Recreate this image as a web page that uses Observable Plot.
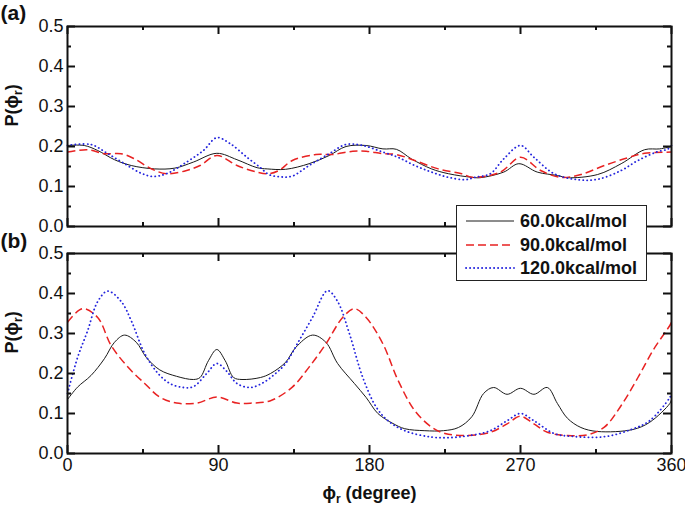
<!DOCTYPE html>
<html><head><meta charset="utf-8">
<script src="https://cdn.jsdelivr.net/npm/d3@7"></script>
<script src="https://cdn.jsdelivr.net/npm/@observablehq/plot@0.6"></script>
<style>
body{margin:0;background:#fff;}
#wrap{position:relative;width:685px;height:505px;background:#fff;font-family:"Liberation Sans",Arial,sans-serif;color:#111;}
.panel{position:absolute;left:0;}
#legend{position:absolute;left:456px;top:205px;width:189px;height:74px;border:1.5px solid #222;background:#fff;}
.lg{position:absolute;left:0;width:189px;height:22px;}
.lg svg{position:absolute;left:8px;top:0;}
.lg span{position:absolute;left:63px;top:0;font-weight:bold;font-size:18px;line-height:22px;white-space:nowrap;}
</style></head>
<body><div id="wrap"><div class="panel" id="pa" style="top:0px"></div><div class="panel" id="pb" style="top:228px"></div><div id="legend"></div></div>
<script>
// ---- data ----
const seriesNames = ["60.0kcal/mol", "90.0kcal/mol", "120.0kcal/mol"];
const xMajor = [0, 90, 180, 270, 360];
const xMinor = [45, 135, 225, 315];
const yMajor = [0, 0.1, 0.2, 0.3, 0.4, 0.5];
const yMinor = [0.05, 0.15, 0.25, 0.35, 0.45];

// panel (a): [phi_r (degree), P]
const a60 = [[0,0.2025],[10,0.2025],[18,0.19],[28,0.167],[38,0.1525],[52,0.144],[64,0.146],[75,0.161],[89,0.183],[101,0.167],[113,0.147],[119,0.144],[130,0.143],[144,0.157],[156,0.1775],[166,0.2],[178,0.2025],[188,0.194],[196,0.193],[205,0.169],[217,0.144],[227,0.132],[241,0.123],[246,0.122],[260,0.136],[269,0.157],[280,0.136],[292,0.1275],[298,0.122],[316,0.13],[330,0.157],[344,0.192],[353,0.194],[360,0.2]];
const a90 = [[0,0.186],[12,0.192],[22,0.182],[32,0.182],[40,0.169],[50,0.144],[59,0.132],[71,0.14],[79,0.1525],[89,0.1775],[101,0.1525],[113,0.136],[120,0.132],[126,0.14],[134,0.165],[148,0.18],[158,0.18],[170,0.188],[178,0.188],[188,0.182],[196,0.18],[207,0.165],[221,0.144],[235,0.132],[241,0.123],[258,0.136],[270,0.173],[282,0.14],[294,0.123],[306,0.13],[320,0.1525],[334,0.172],[344,0.183],[360,0.186]];
const a120 = [[0,0.2025],[14,0.205],[24,0.182],[34,0.157],[44,0.133],[51,0.125],[59,0.132],[71,0.161],[81,0.19],[89,0.222],[97,0.207],[107,0.173],[115,0.147],[120,0.13],[127,0.124],[134,0.126],[144,0.1525],[156,0.182],[166,0.205],[176,0.2025],[188,0.186],[197,0.173],[207,0.1525],[217,0.136],[227,0.123],[237,0.117],[243,0.123],[252,0.132],[260,0.169],[270,0.2025],[278,0.173],[290,0.132],[304,0.117],[316,0.118],[330,0.14],[340,0.165],[351,0.186],[358,0.194],[360,0.2025]];

// panel (b)
const b60 = [[0,0.135],[6,0.166],[14,0.195],[22,0.237],[28,0.278],[34,0.296],[41,0.278],[47,0.24],[55,0.209],[65,0.193],[75,0.185],[79,0.19],[84,0.232],[89,0.26],[94,0.232],[99,0.19],[104,0.185],[115,0.19],[121,0.2],[130,0.228],[136,0.265],[146,0.296],[154,0.278],[161,0.225],[171,0.175],[178,0.14],[185,0.1],[194,0.075],[201,0.062],[213,0.057],[224,0.057],[233,0.065],[241,0.092],[248,0.15],[254,0.165],[262,0.148],[270,0.163],[278,0.148],[286,0.165],[292,0.125],[298,0.088],[306,0.065],[316,0.055],[337,0.06],[347,0.078],[359,0.125],[360,0.135]];
const b90 = [[0,0.328],[9,0.362],[18,0.34],[26,0.27],[36,0.216],[46,0.175],[55,0.141],[65,0.126],[77,0.126],[89,0.141],[101,0.126],[110,0.126],[121,0.132],[134,0.166],[144,0.216],[154,0.274],[164,0.34],[171,0.362],[178,0.34],[188,0.274],[197,0.183],[207,0.107],[217,0.066],[225,0.05],[237,0.045],[252,0.053],[262,0.074],[270,0.093],[278,0.074],[286,0.053],[298,0.045],[310,0.047],[320,0.066],[330,0.12],[340,0.19],[349,0.258],[359,0.32],[360,0.328]];
const b120 = [[0,0.15],[6,0.24],[12,0.307],[18,0.38],[24,0.406],[32,0.38],[38,0.332],[46,0.25],[54,0.2],[61,0.175],[69,0.165],[75,0.167],[83,0.2],[89,0.225],[95,0.205],[101,0.175],[109,0.165],[117,0.178],[124,0.2],[130,0.225],[138,0.282],[146,0.34],[155,0.407],[161,0.38],[168,0.3],[176,0.19],[184,0.116],[191,0.082],[201,0.057],[217,0.041],[229,0.04],[240,0.045],[252,0.057],[262,0.082],[270,0.1],[278,0.082],[290,0.05],[300,0.043],[320,0.042],[336,0.06],[347,0.082],[359,0.14],[360,0.15]];

// ---- styles ----
const sty = [
  {stroke: "#1a1a1a", strokeWidth: 1, dash: null, cap: "butt"},
  {stroke: "#e82222", strokeWidth: 1.5, dash: "8,4", cap: "butt"},
  {stroke: "#2424dd", strokeWidth: 1.8, dash: "0.2,3.8", cap: "round"}
];

const W = 685, ML = 67, MR = 14;

function panel(series, letter, showX, h, mt, mb) {
  const fh = h - mt - mb, fw = W - ML - MR;
  const tw = 2, big = 8, small = 4;
  const lines = series.map((d, i) => Plot.line(d, {
    x: p => p[0], y: p => p[1], curve: "catmull-rom",
    stroke: sty[i].stroke, strokeWidth: sty[i].strokeWidth,
    strokeDasharray: sty[i].dash, strokeLinecap: sty[i].cap
  }));
  const marks = [
    ...lines,
    // inward ticks on all four sides
    Plot.tickX(xMajor, {x: d => d, insetTop: fh - big, stroke: "#111", strokeWidth: tw}),
    Plot.tickX(xMajor, {x: d => d, insetBottom: fh - big, stroke: "#111", strokeWidth: tw}),
    Plot.tickX(xMinor, {x: d => d, insetTop: fh - small, stroke: "#111", strokeWidth: tw}),
    Plot.tickX(xMinor, {x: d => d, insetBottom: fh - small, stroke: "#111", strokeWidth: tw}),
    Plot.tickY(yMajor, {y: d => d, insetRight: fw - big, stroke: "#111", strokeWidth: tw}),
    Plot.tickY(yMajor, {y: d => d, insetLeft: fw - big, stroke: "#111", strokeWidth: tw}),
    Plot.tickY(yMinor, {y: d => d, insetRight: fw - small, stroke: "#111", strokeWidth: tw}),
    Plot.tickY(yMinor, {y: d => d, insetLeft: fw - small, stroke: "#111", strokeWidth: tw}),
    Plot.frame({stroke: "#111", strokeWidth: 2}),
    Plot.axisY({anchor: "left", ticks: yMajor, tickSize: 0, tickPadding: 4, tickFormat: d3.format(".1f"), label: null, fontSize: 18}),
    Plot.text([letter], {frameAnchor: "top-left", lineAnchor: "middle", dx: -67, dy: letter === "(a)" ? -13 : -12, textAnchor: "start", fontWeight: "bold", fontSize: 21}),
    Plot.text(["P(ϕr)"], {frameAnchor: "left", lineAnchor: "middle", rotate: -90, dx: -55, fontWeight: "bold", fontSize: 18, className: "ylab"})
  ];
  if (showX) {
    marks.push(Plot.axisX({anchor: "bottom", ticks: xMajor, tickSize: 0, tickPadding: 5, tickFormat: d => String(d), label: null, fontSize: 18}));
    marks.push(Plot.text(["ϕr (degree)"], {frameAnchor: "bottom", lineAnchor: "middle", dy: 40, fontWeight: "bold", fontSize: 18, className: "xlab"}));
  }
  const svg = Plot.plot({
    width: W, height: h,
    marginLeft: ML, marginRight: MR, marginTop: mt, marginBottom: mb,
    x: {domain: [0, 360], axis: null},
    y: {domain: [0, 0.5], axis: null},
    style: {background: "transparent", overflow: "visible", fontFamily: "'Liberation Sans', Arial, sans-serif", fontSize: "18px", color: "#111"},
    marks
  });
  svg.querySelectorAll(".ylab text").forEach(t => {
    t.innerHTML = 'P(ϕ<tspan font-size="12" dy="4">r</tspan><tspan dy="-4">)</tspan>';
  });
  svg.querySelectorAll(".xlab text").forEach(t => {
    t.innerHTML = 'ϕ<tspan font-size="12" dy="4">r</tspan><tspan dy="-4"> (degree)</tspan>';
  });
  return svg;
}

document.getElementById("pa").appendChild(panel([a60, a90, a120], "(a)", false, 240, 26, 14));
document.getElementById("pb").appendChild(panel([b60, b90, b120], "(b)", true, 277, 25, 52));

// legend
const lg = document.getElementById("legend");
const rowTops = [4, 28, 51];
seriesNames.forEach((name, i) => {
  const row = document.createElement("div");
  row.className = "lg";
  row.style.top = rowTops[i] + "px";
  row.innerHTML = `<svg width="50" height="22"><line x1="1" x2="49" y1="11" y2="11" stroke="${sty[i].stroke}" stroke-width="${sty[i].strokeWidth}" stroke-linecap="${sty[i].cap}" ${sty[i].dash ? `stroke-dasharray="${sty[i].dash}"` : ""}/></svg><span>${name}</span>`;
  lg.appendChild(row);
});
</script>
</body></html>
